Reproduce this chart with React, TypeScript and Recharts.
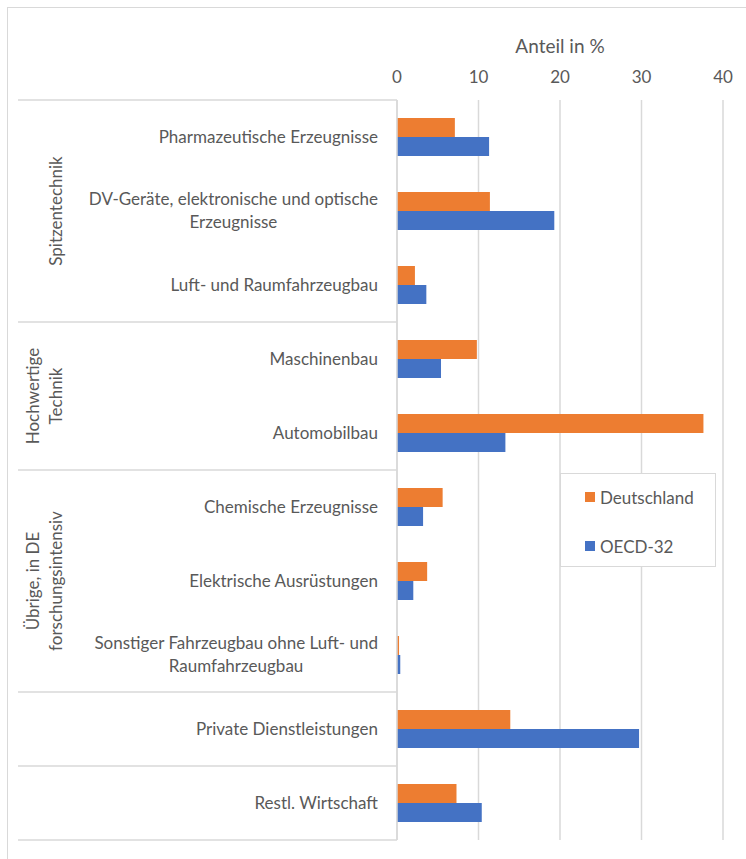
import React from 'react';
import {
  BarChart,
  Bar,
  XAxis,
  YAxis,
  CartesianGrid,
  Legend,
} from 'recharts';

if (typeof document !== 'undefined') document.body.style.margin = '0';

const categories = [
  'Pharmazeutische Erzeugnisse',
  'DV-Geräte, elektronische und optische\nErzeugnisse',
  'Luft- und Raumfahrzeugbau',
  'Maschinenbau',
  'Automobilbau',
  'Chemische Erzeugnisse',
  'Elektrische Ausrüstungen',
  'Sonstiger Fahrzeugbau ohne Luft- und\nRaumfahrzeugbau',
  'Private Dienstleistungen',
  'Restl. Wirtschaft',
];
const deutschland = [7.1, 11.4, 2.2, 9.8, 37.6, 5.6, 3.7, 0.25, 13.9, 7.3];
const oecd = [11.3, 19.3, 3.6, 5.4, 13.3, 3.2, 2.0, 0.4, 29.7, 10.4];
const xTicks = [0, 10, 20, 30, 40];

// group label, first and last category index
const groups = [
  { lines: ['Spitzentechnik'], from: 0, to: 2 },
  { lines: ['Hochwertige', 'Technik'], from: 3, to: 4 },
  { lines: ['Übrige, in DE', 'forschungsintensiv'], from: 5, to: 7 },
  { lines: [], from: 8, to: 8 },
  { lines: [], from: 9, to: 9 },
];

const data = categories.map((name, i) => ({
  name,
  de: deutschland[i],
  oecd: oecd[i],
}));

const W = 746;
const H = 859;
const MARGIN = { top: 0, right: 23, bottom: 19, left: 0 };
const X_AXIS_H = 100;
const Y_AXIS_W = 397;
const BAND = (H - MARGIN.top - MARGIN.bottom - X_AXIS_H) / categories.length;

const FONT = 'Lato, sans-serif';
const TEXT = '#595959';
const GRID = '#d9d9d9';
const ORANGE = '#ED7D31';
const BLUE = '#4472C4';
const LABEL_SIZE = 17;

let ctx: CanvasRenderingContext2D | null = null;
const measure = (s: string, size: number) => {
  if (!ctx) ctx = document.createElement('canvas').getContext('2d');
  if (!ctx) return s.length * size * 0.5;
  ctx.font = `${size}px Lato`;
  return ctx.measureText(s).width;
};

const CategoryTick = (props: any) => {
  const { x, y, payload } = props;
  const idx = payload.index;
  const lines: string[] = String(payload.value).split('\n');
  const lh = 23;
  const w0 = measure(lines[0], LABEL_SIZE);
  const top = y - ((lines.length - 1) * lh) / 2;
  const group = groups.find((g) => g.from === idx);
  const last = groups.find((g) => g.to === idx);
  return (
    <g>
      {lines.map((l, i) => (
        <text
          key={i}
          x={i === 0 ? x : x - w0 / 2}
          y={top + i * lh}
          dy="0.35em"
          textAnchor={i === 0 ? 'end' : 'middle'}
          fill={TEXT}
          fontSize={LABEL_SIZE}
          fontFamily={FONT}
        >
          {l}
        </text>
      ))}
      {idx === 0 && (
        <line x1={18} x2={Y_AXIS_W} y1={y - BAND / 2} y2={y - BAND / 2} stroke={GRID} strokeWidth={1.5} />
      )}
      {last && (
        <line x1={18} x2={Y_AXIS_W} y1={y + BAND / 2} y2={y + BAND / 2} stroke={GRID} strokeWidth={1.5} />
      )}
      {group && group.lines.length > 0 && (() => {
        const cy = y + ((group.to - group.from) * BAND) / 2;
        return group.lines.map((l, i) => {
          const cx = 56 - (group.lines.length - 1 - i) * 22.5;
          return (
            <text
              key={'g' + i}
              x={cx}
              y={cy}
              dy="0.35em"
              textAnchor="middle"
              transform={`rotate(-90 ${cx} ${cy})`}
              fill={TEXT}
              fontSize={17}
              fontFamily={FONT}
            >
              {l}
            </text>
          );
        });
      })()}
    </g>
  );
};

const ValueTick = (props: any) => {
  const { x, y, payload } = props;
  return (
    <text x={x} y={y} textAnchor="middle" fill={TEXT} fontSize={17} fontFamily={FONT}>
      {payload.value}
    </text>
  );
};

const LegendBox = (props: any) => {
  const items = props.payload || [];
  return (
    <div style={{ position: 'relative', width: '100%', height: '100%' }}>
      {items.map((it: any, i: number) => (
        <div
          key={it.value}
          style={{
            position: 'absolute',
            left: 24,
            top: 23 + i * 49 - 10,
            height: 20,
            display: 'flex',
            alignItems: 'center',
            fontFamily: FONT,
            fontSize: 17,
            color: TEXT,
            whiteSpace: 'nowrap',
          }}
        >
          <span
            style={{
              display: 'inline-block',
              width: 10,
              height: 10,
              background: it.color,
              marginRight: 5,
            }}
          />
          {it.value}
        </div>
      ))}
    </div>
  );
};

export default function App() {
  return (
    <div style={{ position: 'relative', width: W, height: H, overflow: 'hidden', background: '#fff' }}>
      <div
        style={{
          position: 'absolute',
          left: 7,
          top: 7,
          width: W,
          height: H,
          borderLeft: `1.5px solid ${GRID}`,
          borderTop: `1.5px solid ${GRID}`,
        }}
      />
      <BarChart
        width={W}
        height={H}
        data={data}
        layout="vertical"
        margin={MARGIN}
        barSize={19}
        barGap={0}
        style={{ position: 'absolute', left: 0, top: 0 }}
      >
        <CartesianGrid horizontal={false} vertical={true} stroke={GRID} strokeWidth={1.5} />
        <XAxis
          type="number"
          orientation="top"
          domain={[0, 40]}
          ticks={xTicks}
          height={X_AXIS_H}
          axisLine={false}
          tickLine={false}
          tickSize={0}
          tickMargin={17}
          tick={<ValueTick />}
          label={{
            value: 'Anteil in %',
            position: 'insideTop',
            offset: 40,
            fill: TEXT,
            fontSize: 19,
            fontFamily: FONT,
          }}
        />
        <YAxis
          type="category"
          dataKey="name"
          width={Y_AXIS_W}
          axisLine={{ stroke: GRID, strokeWidth: 1.5 }}
          tickLine={false}
          tickSize={0}
          tickMargin={19}
          interval={0}
          tick={<CategoryTick />}
        />
        <Legend
          layout="horizontal"
          verticalAlign="middle"
          align="center"
          content={<LegendBox />}
          wrapperStyle={{
            position: 'absolute',
            left: 560,
            top: 473,
            width: 156,
            height: 94,
            border: `1.5px solid ${GRID}`,
            background: '#fff',
            boxSizing: 'border-box',
          }}
        />
        <Bar dataKey="de" name="Deutschland" fill={ORANGE} isAnimationActive={false} />
        <Bar dataKey="oecd" name="OECD-32" fill={BLUE} isAnimationActive={false} />
      </BarChart>
    </div>
  );
}
